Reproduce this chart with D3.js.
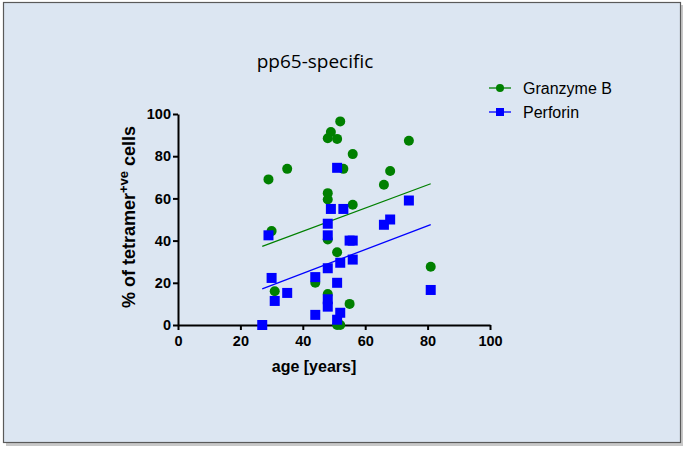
<head>
	<style>
		body { margin: 0; padding: 0; background: #fff; }
		svg { display: block; }
		.axis path, .axis line { stroke: #000; stroke-width: 2px; }
		.axis text { font: bold 14.5px "Liberation Sans", Arial, sans-serif; fill: #000; }
	</style>
	<script src="https://cdnjs.cloudflare.com/ajax/libs/d3/7.8.5/d3.min.js"></script>
</head>
<body>
	<svg width="685" height="450"></svg>
</body>
<script>
	// Granzyme B (green circles)
	const gzmAge = [29, 30, 31, 35, 44, 48, 48, 48, 49, 51, 52, 53, 56, 56, 48, 51, 48, 55, 51, 52, 66, 68, 74, 81];
	const gzmVal = [69, 44.5, 16, 74, 20, 62.5, 59.5, 88.5, 91.5, 88.2, 96.5, 74, 81, 57, 40.5, 34.5, 14.7, 10, 0, 0, 66.5, 73, 87.3, 27.6];
	// Perforin (blue squares)
	const prfAge = [27, 29, 30, 31, 35, 44, 44, 48, 48, 48, 48, 48, 49, 51, 51, 51, 52, 52, 53, 55, 56, 56, 66, 68, 74, 81];
	const prfVal = [0, 42.5, 22.3, 11.4, 15.2, 22.7, 4.8, 48, 42.5, 26.9, 12.2, 8.7, 55, 74.5, 20, 2.5, 29.5, 5.8, 55, 40, 40, 31, 47.5, 50, 59, 16.6];
	// linear fits: [x start, x end, slope, intercept]
	const gzmFit = [27, 81, 0.55, 22.4];
	const prfFit = [27, 81, 0.565, 1.85];
	const xTicks = [0, 20, 40, 60, 80, 100];
	const yTicks = [0, 20, 40, 60, 80, 100];

	const svg = d3.select('svg');

	// frame with shadow
	svg.append('rect').attr('x', 6).attr('y', 5).attr('width', 677).attr('height', 441).attr('fill', '#c8c8c8');
	svg.append('rect').attr('x', 3.5).attr('y', 2.5).attr('width', 677).attr('height', 440)
		.attr('fill', '#dce6f2').attr('stroke', '#5a5a5a').attr('stroke-width', 1.2);

	const x = d3.scaleLinear().domain([0, 100]).range([178, 490]);
	const y = d3.scaleLinear().domain([0, 100]).range([325, 114]);

	svg.append('g').attr('class', 'axis').attr('transform', 'translate(0,325)')
		.call(d3.axisBottom(x).tickValues(xTicks).tickSize(5).tickPadding(6).tickSizeOuter(0));
	svg.append('g').attr('class', 'axis').attr('transform', 'translate(178,0)')
		.call(d3.axisLeft(y).tickValues(yTicks).tickSize(5).tickPadding(2).tickSizeOuter(0));

	// titles
	svg.append('text').attr('x', 315).attr('y', 68).attr('text-anchor', 'middle')
		.style('font', '19px "Open Sans", sans-serif').text('pp65-specific');
	svg.append('text').attr('x', 314).attr('y', 372).attr('text-anchor', 'middle')
		.style('font', 'bold 16px "Liberation Sans", Arial, sans-serif').text('age [years]');
	const yt = svg.append('text').attr('transform', 'translate(135,217) rotate(-90)').attr('text-anchor', 'middle')
		.style('font', 'bold 18px "Liberation Sans", Arial, sans-serif');
	yt.append('tspan').text('% of tetramer');
	yt.append('tspan').attr('dy', -7).style('font-size', '13px').text('+ve');
	yt.append('tspan').attr('dy', 7).text(' cells');

	// fit lines
	[[gzmFit, '#008000'], [prfFit, '#0000ff']].forEach(([f, c]) => {
		svg.append('line')
			.attr('x1', x(f[0])).attr('y1', y(f[2] * f[0] + f[3]))
			.attr('x2', x(f[1])).attr('y2', y(f[2] * f[1] + f[3]))
			.attr('stroke', c).attr('stroke-width', 1.3);
	});

	// points
	svg.selectAll('circle.gzm').data(gzmAge.map((a, i) => [a, gzmVal[i]])).enter().append('circle')
		.attr('class', 'gzm').attr('cx', d => x(d[0])).attr('cy', d => y(d[1])).attr('r', 5).attr('fill', '#008000');
	svg.selectAll('rect.prf').data(prfAge.map((a, i) => [a, prfVal[i]])).enter().append('rect')
		.attr('class', 'prf').attr('x', d => x(d[0]) - 5).attr('y', d => y(d[1]) - 5)
		.attr('width', 10).attr('height', 10).attr('fill', '#0000ff');

	// legend
	const leg = svg.append('g');
	leg.append('line').attr('x1', 489).attr('x2', 511).attr('y1', 88).attr('y2', 88).attr('stroke', '#008000').attr('stroke-width', 1.3);
	leg.append('circle').attr('cx', 500).attr('cy', 88).attr('r', 4).attr('fill', '#008000');
	leg.append('text').attr('x', 523).attr('y', 94).style('font', '16px "Liberation Sans", Arial, sans-serif').text('Granzyme B');
	leg.append('line').attr('x1', 489).attr('x2', 511).attr('y1', 112).attr('y2', 112).attr('stroke', '#0000ff').attr('stroke-width', 1.3);
	leg.append('rect').attr('x', 496).attr('y', 108).attr('width', 8).attr('height', 8).attr('fill', '#0000ff');
	leg.append('text').attr('x', 523).attr('y', 118).style('font', '16px "Liberation Sans", Arial, sans-serif').text('Perforin');
</script>
